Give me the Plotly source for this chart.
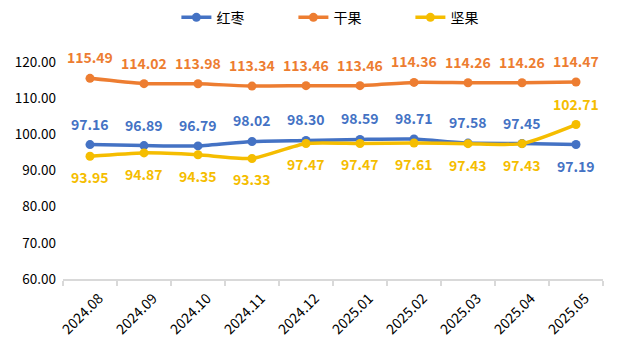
import plotly.graph_objects as go

months = ["2024.08", "2024.09", "2024.10", "2024.11", "2024.12",
          "2025.01", "2025.02", "2025.03", "2025.04", "2025.05"]
hongzao = [97.16, 96.89, 96.79, 98.02, 98.30, 98.59, 98.71, 97.58, 97.45, 97.19]
ganguo = [115.49, 114.02, 113.98, 113.34, 113.46, 113.46, 114.36, 114.26, 114.26, 114.47]
jianguo = [93.95, 94.87, 94.35, 93.33, 97.47, 97.47, 97.61, 97.43, 97.43, 102.71]

# label side per point: 1 above, -1 below
hz_side = [1, 1, 1, 1, 1, 1, 1, 1, 1, -1]
gg_side = [1] * 10
jg_side = [-1, -1, -1, -1, -1, -1, -1, -1, -1, 1]

series = [
    ("红枣", hongzao, "#4472C4", hz_side),
    ("干果", ganguo, "#ED7D31", gg_side),
    ("坚果", jianguo, "#F5BD00", jg_side),
]

font = "Microsoft YaHei, Noto Sans CJK SC, sans-serif"
xs = list(range(len(months)))
fig = go.Figure()
annotations = []
for name, vals, color, side in series:
    fig.add_trace(go.Scatter(
        x=xs, y=vals, name=name, mode="lines+markers",
        line=dict(color=color, width=3.5, shape="spline", smoothing=0.6),
        marker=dict(color=color, size=9),
    ))
    for xi, v, s in zip(xs, vals, side):
        annotations.append(dict(
            x=xi, y=v, text=f"<b>{v:.2f}</b>", showarrow=False,
            yshift=21 * s, font=dict(color=color, size=14, family=font),
        ))

# boundaries between categories for tick marks
bounds = [i - 0.5 for i in range(len(months) + 1)]

fig.update_layout(
    width=624, height=351,
    margin=dict(l=63, r=21, t=62, b=72),
    paper_bgcolor="white", plot_bgcolor="white",
    font=dict(family=font, size=13, color="#000"),
    annotations=annotations,
    legend=dict(orientation="h", x=0.535, xanchor="center", y=0.995, yanchor="top",
                yref="container", font=dict(size=14),
                entrywidth=72, entrywidthmode="pixels"),
    showlegend=True,
)
fig.update_xaxes(
    range=[-0.5, len(months) - 0.5], tickvals=xs, ticktext=months,
    tickangle=-45, showline=True, linecolor="#d9d9d9", linewidth=1.5,
    ticks="", showgrid=False, zeroline=False, tickfont=dict(size=14, family=font),
    ticklabelshift=9, ticklabelstandoff=4,
)
# boundary tick marks via minor ticks
fig.update_xaxes(minor=dict(tickvals=bounds, ticks="outside", ticklen=5,
                            tickcolor="#d9d9d9", tickwidth=1.5, showgrid=False))
fig.update_yaxes(
    range=[60, 120], tickvals=[60, 70, 80, 90, 100, 110, 120],
    tickformat=".2f", showgrid=False, zeroline=False, showline=False,
    tickfont=dict(size=13.5, family=font), ticklabelstandoff=6,
)
fig.write_html("out.html")
